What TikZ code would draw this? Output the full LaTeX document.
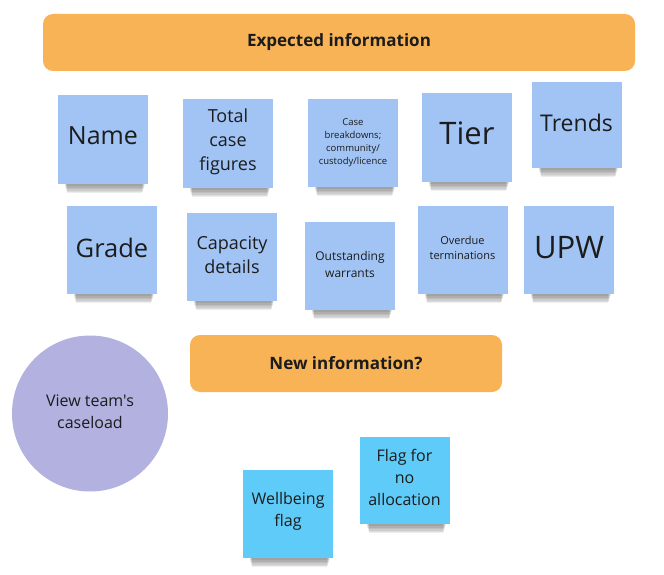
\documentclass[tikz,border=0pt]{standalone}
\usepackage{fontspec}
\setmainfont{Open Sans}
\newfontfamily\osplain{Open Sans}
\definecolor{sblue}{HTML}{A1C4F5}
\definecolor{scyan}{HTML}{5FCBF8}
\definecolor{sorange}{HTML}{F7B356}
\definecolor{slav}{HTML}{B2B1DF}
\definecolor{ink}{HTML}{1C1C1C}
\newcommand\shadowbar[3]{\foreach \i in {1,...,6}{\fill[black,opacity=0.07] ({#1+6+\i*0.5},{#3-2}) rectangle ({#2-3-\i*0.5},{#3+1+\i*1.4});}}
\newcommand\fs[2]{\fontsize{#1}{#2}\selectfont}
\newcommand\up[2]{\raisebox{#1}[\height][\depth]{\parbox{86pt}{\centering #2}}}
\tikzset{
  notebox/.style={fill=sblue, minimum width=90pt, minimum height=88pt, inner sep=2pt, align=center, text=ink},
  header/.style={fill=sorange, rounded corners=10pt, inner sep=0pt, align=center, text=ink, font=\bfseries\fs{17}{20}},
}
\begin{document}
\begin{tikzpicture}[x=1pt,y=-1pt]
\useasboundingbox (0,0) rectangle (664,575);
\fill[white] (0,0) rectangle (664,575);

\node[header, minimum width=592pt, minimum height=57pt] (h1) at (339,42.5) {Expected information};

% row 1
\shadowbar{58}{148}{184}
\node[notebox, font=\fs{25}{30}] (name) at (103,139.5) {\up{4pt}{Name}};
\shadowbar{183}{273}{188}
\node[notebox, font=\fs{18}{24}] (total) at (228,143.5) {\up{1.5pt}{Total\\case\\figures}};
\shadowbar{308}{398}{187}
\node[notebox, font=\fs{9.5}{13}] (case) at (353,143) {Case\\breakdowns;\\community/\\custody/licence};
\shadowbar{422}{512}{182}
\node[notebox, font=\fs{31}{36}] (tier) at (467,137.5) {\up{4pt}{Tier}};
\shadowbar{532}{621}{168}
\node[notebox, minimum height=86pt, font=\fs{23}{28}] (trends) at (576.5,125) {\up{2pt}{Trends}};

% row 2
\shadowbar{67}{157}{294}
\node[notebox, font=\fs{25.5}{30}] (grade) at (112,250) {\up{2.5pt}{Grade}};
\shadowbar{187}{277}{301}
\node[notebox, font=\fs{18}{24}] (capacity) at (232,257) {\up{2.5pt}{Capacity\\details}};
\shadowbar{305}{395}{310}
\node[notebox, font=\fs{12}{17}] (outstanding) at (350,266) {\up{2pt}{Outstanding\\warrants}};
\shadowbar{418}{507}{294}
\node[notebox, font=\fs{11}{15}] (overdue) at (462.5,250) {\up{2pt}{Overdue\\terminations}};
\shadowbar{524}{614}{294}
\node[notebox, font=\fs{31}{36}] (upw) at (569,250) {\up{2.5pt}{UPW}};

% lower part
\node[header, minimum width=312pt, minimum height=57pt] (h2) at (346,363.5) {New information?};
\node[circle, fill=slav, minimum size=156pt, inner sep=0pt, align=center, text=ink, font=\osplain\fs{16}{22}] (view) at (90,413.5) {\raisebox{1.5pt}[\height][\depth]{\parbox{120pt}{\centering View team's\\caseload}}};

\shadowbar{243}{333}{558}
\node[notebox, fill=scyan, font=\fs{16}{22}] (wellbeing) at (288,513.5) {\up{2.5pt}{Wellbeing\\flag}};
\shadowbar{360}{449}{524}
\node[notebox, fill=scyan, minimum width=89pt, minimum height=87pt, font=\fs{16}{22}] (flag) at (404.5,480.5) {\up{3.5pt}{Flag for\\no\\allocation}};
\end{tikzpicture}
\end{document}
